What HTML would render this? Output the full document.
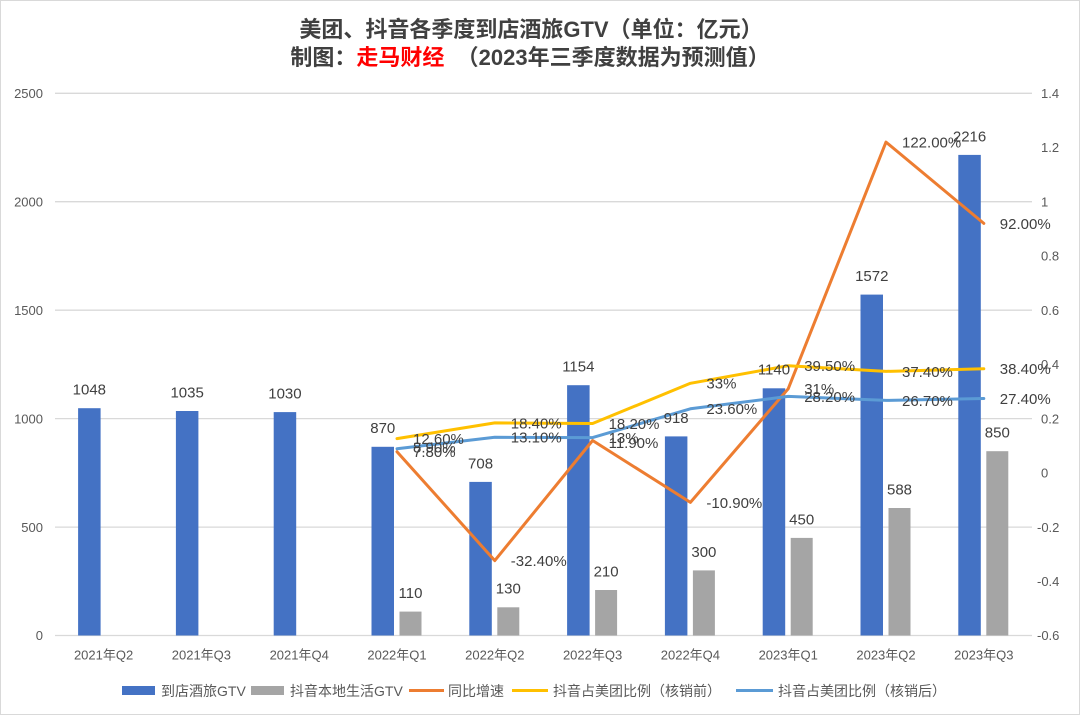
<!DOCTYPE html>
<html>
<head>
<meta charset="utf-8">
<style>
  html,body{margin:0;padding:0;background:#fff;}
  svg{display:block;}
  .t{font-family:"Liberation Sans","Noto Sans CJK SC",sans-serif;}
</style>
</head>
<body>
<svg width="1080" height="715" viewBox="0 0 1080 715" xmlns="http://www.w3.org/2000/svg">
  <rect x="0.5" y="0.5" width="1079" height="714" fill="#fff" stroke="#D9D9D9" stroke-width="1"/>

  <!-- Title -->
  <text class="t" x="531" y="37" text-anchor="middle" font-size="22" font-weight="bold" fill="#404040">美团、抖音各季度到店酒旅GTV（单位：亿元）</text>
  <text class="t" x="530" y="65" text-anchor="middle" font-size="22" font-weight="bold" fill="#404040">制图：<tspan fill="#FF0000">走马财经</tspan>&#160;&#160;（2023年三季度数据为预测值）</text>

  <!-- Gridlines -->
  <g stroke="#D9D9D9" stroke-width="1.3">
    <line x1="55" y1="93.3" x2="1032" y2="93.3"/>
    <line x1="55" y1="201.7" x2="1032" y2="201.7"/>
    <line x1="55" y1="310.2" x2="1032" y2="310.2"/>
    <line x1="55" y1="418.6" x2="1032" y2="418.6"/>
    <line x1="55" y1="527.1" x2="1032" y2="527.1"/>
    <line x1="55" y1="635.5" x2="1032" y2="635.5"/>
  </g>

  <!-- Left axis labels -->
  <g class="t" font-size="13" fill="#595959" text-anchor="end">
    <text x="43" y="98">2500</text>
    <text x="43" y="206.4">2000</text>
    <text x="43" y="314.9">1500</text>
    <text x="43" y="423.3">1000</text>
    <text x="43" y="531.8">500</text>
    <text x="43" y="640.2">0</text>
  </g>

  <!-- Right axis labels -->
  <g class="t" font-size="13" fill="#595959">
    <text x="1041" y="98">1.4</text>
    <text x="1041" y="152.2">1.2</text>
    <text x="1041" y="206.4">1</text>
    <text x="1041" y="260.7">0.8</text>
    <text x="1041" y="314.9">0.6</text>
    <text x="1041" y="369.1">0.4</text>
    <text x="1041" y="423.3">0.2</text>
    <text x="1041" y="477.5">0</text>
    <text x="1037" y="531.8">-0.2</text>
    <text x="1037" y="586">-0.4</text>
    <text x="1037" y="640.2">-0.6</text>
  </g>

  <!-- Blue bars -->
  <g fill="#4472C4">
    <rect x="78.1" y="408.2" width="22.5" height="227.3"/>
    <rect x="175.9" y="411.0" width="22.5" height="224.5"/>
    <rect x="273.7" y="412.1" width="22.5" height="223.4"/>
    <rect x="371.5" y="446.8" width="22.5" height="188.7"/>
    <rect x="469.3" y="481.9" width="22.5" height="153.6"/>
    <rect x="567.1" y="385.2" width="22.5" height="250.3"/>
    <rect x="664.9" y="436.4" width="22.5" height="199.1"/>
    <rect x="762.7" y="388.3" width="22.5" height="247.2"/>
    <rect x="860.5" y="294.6" width="22.5" height="340.9"/>
    <rect x="958.3" y="154.9" width="22.5" height="480.6"/>
  </g>

  <!-- Gray bars -->
  <g fill="#A5A5A5">
    <rect x="399.5" y="611.6" width="22" height="23.9"/>
    <rect x="497.3" y="607.3" width="22" height="28.2"/>
    <rect x="595.1" y="590.0" width="22" height="45.5"/>
    <rect x="692.9" y="570.4" width="22" height="65.1"/>
    <rect x="790.7" y="537.9" width="22" height="97.6"/>
    <rect x="888.5" y="508.0" width="22" height="127.5"/>
    <rect x="986.3" y="451.2" width="22" height="184.3"/>
  </g>

  <!-- Lines -->
  <g fill="none" stroke-width="3" stroke-linejoin="round" stroke-linecap="round">
    <polyline stroke="#ED7D31" points="397,451.7 494.8,560.6 592.6,440.5 690.4,502.4 788.2,388.8 886,142.1 983.8,223.4"/>
    <polyline stroke="#FFC000" points="397,438.6 494.8,422.9 592.6,423.5 690.4,383.3 788.2,365.7 886,371.4 983.8,368.7"/>
    <polyline stroke="#5B9BD5" points="397,448.7 494.8,437.3 592.6,437.6 690.4,408.8 788.2,396.4 886,400.4 983.8,398.5"/>
  </g>

  <!-- Bar labels -->
  <g class="t" font-size="15" fill="#404040" text-anchor="middle">
    <text x="89.35" y="394.6">1048</text>
    <text x="187.15" y="397.4">1035</text>
    <text x="284.95" y="398.5">1030</text>
    <text x="382.75" y="433.2">870</text>
    <text x="480.55" y="468.3">708</text>
    <text x="578.35" y="371.6">1154</text>
    <text x="676.15" y="422.8">918</text>
    <text x="773.95" y="374.7">1140</text>
    <text x="871.75" y="281.0">1572</text>
    <text x="969.55" y="141.3">2216</text>

    <text x="410.5" y="598.0">110</text>
    <text x="508.3" y="593.7">130</text>
    <text x="606.1" y="576.4">210</text>
    <text x="703.9" y="556.8">300</text>
    <text x="801.7" y="524.3">450</text>
    <text x="899.5" y="494.4">588</text>
    <text x="997.3" y="437.6">850</text>
  </g>

  <!-- Line labels -->
  <g class="t" font-size="15" fill="#404040">
    <!-- orange -->
    <text x="413" y="457.1">7.80%</text>
    <text x="510.8" y="566">-32.40%</text>
    <text x="608.6" y="448">11.90%</text>
    <text x="706.4" y="507.8">-10.90%</text>
    <text x="804.2" y="394.2">31%</text>
    <text x="902" y="147.5">122.00%</text>
    <text x="999.8" y="228.8">92.00%</text>
    <!-- yellow -->
    <text x="413" y="444">12.60%</text>
    <text x="510.8" y="428.3">18.40%</text>
    <text x="608.6" y="428.9">18.20%</text>
    <text x="706.4" y="388.7">33%</text>
    <text x="804.2" y="371.1">39.50%</text>
    <text x="902" y="376.8">37.40%</text>
    <text x="999.8" y="374.1">38.40%</text>
    <!-- blue -->
    <text x="413" y="452.5">8.90%</text>
    <text x="510.8" y="442.7">13.10%</text>
    <text x="608.6" y="443">13%</text>
    <text x="706.4" y="414.2">23.60%</text>
    <text x="804.2" y="401.8">28.20%</text>
    <text x="902" y="405.8">26.70%</text>
    <text x="999.8" y="403.9">27.40%</text>
  </g>

  <!-- Category labels -->
  <g class="t" font-size="13" fill="#595959" text-anchor="middle">
    <text x="103.6" y="659.5">2021年Q2</text>
    <text x="201.4" y="659.5">2021年Q3</text>
    <text x="299.2" y="659.5">2021年Q4</text>
    <text x="397" y="659.5">2022年Q1</text>
    <text x="494.8" y="659.5">2022年Q2</text>
    <text x="592.6" y="659.5">2022年Q3</text>
    <text x="690.4" y="659.5">2022年Q4</text>
    <text x="788.2" y="659.5">2023年Q1</text>
    <text x="886" y="659.5">2023年Q2</text>
    <text x="983.8" y="659.5">2023年Q3</text>
  </g>

  <!-- Legend -->
  <rect x="122" y="686" width="33" height="9" fill="#4472C4"/>
  <rect x="251" y="686" width="33" height="9" fill="#A5A5A5"/>
  <line x1="409" y1="690.5" x2="444" y2="690.5" stroke="#ED7D31" stroke-width="3"/>
  <line x1="512" y1="690.5" x2="548" y2="690.5" stroke="#FFC000" stroke-width="3"/>
  <line x1="736" y1="690.5" x2="773" y2="690.5" stroke="#5B9BD5" stroke-width="3"/>
  <g class="t" font-size="14" fill="#595959">
    <text x="161" y="696">到店酒旅GTV</text>
    <text x="290" y="696">抖音本地生活GTV</text>
    <text x="448" y="696">同比增速</text>
    <text x="553" y="696">抖音占美团比例（核销前）</text>
    <text x="778" y="696">抖音占美团比例（核销后）</text>
  </g>
</svg>
</body>
</html>
